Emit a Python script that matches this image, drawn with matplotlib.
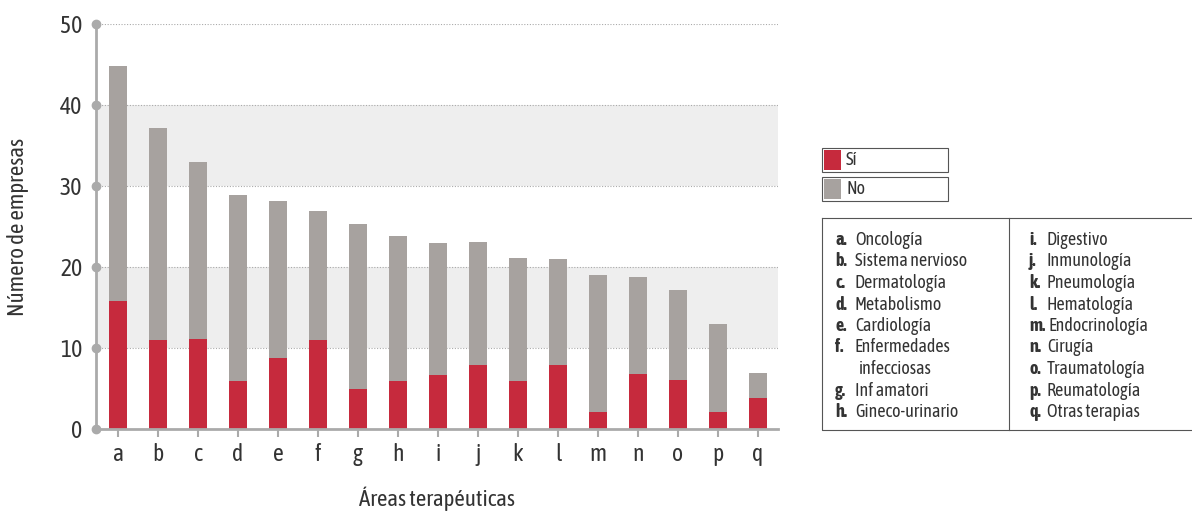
import numpy as np
import matplotlib
matplotlib.use("Agg")
import matplotlib.pyplot as plt
from matplotlib.patches import Rectangle
from matplotlib import font_manager

# data
letters = list("abcdefghijklmnopq")
si = [15.8, 11.0, 11.1, 5.9, 8.8, 11.0, 4.9, 5.9, 6.7, 7.9, 5.9, 7.9, 2.1, 6.8, 6.0, 2.1, 3.8]
total = [44.8, 37.2, 33.0, 28.9, 28.1, 26.9, 25.3, 23.8, 23.0, 23.1, 21.1, 21.0, 19.0, 18.8, 17.2, 13.0, 6.9]
no = [t - s for t, s in zip(total, si)]

areas_left = [("a.", "Oncología"), ("b.", "Sistema nervioso"), ("c.", "Dermatología"),
              ("d.", "Metabolismo"), ("e.", "Cardiología"), ("f.", "Enfermedades"),
              ("", "infecciosas"), ("g.", "Inf amatori"), ("h.", "Gineco-urinario")]
areas_right = [("i.", "Digestivo"), ("j.", "Inmunología"), ("k.", "Pneumología"),
               ("l.", "Hematología"), ("m.", "Endocrinología"), ("n.", "Cirugía"),
               ("o.", "Traumatología"), ("p.", "Reumatología"), ("q.", "Otras terapias")]

RED = "#c62a3d"
GREY = "#a7a29f"
AXC = "#aaaaaa"
TXT = "#333333"

# look for a condensed family, prefer one that also has a bold face
fonts = font_manager.fontManager.ttflist
narrow = [f for f in fonts if "Narrow" in f.name or "Condensed" in f.name
          or f.stretch in ("condensed", "semi-condensed")]
bold_fams = {f.name for f in narrow if f.weight in (600, 700, "bold", "semibold")}
fam = "DejaVu Sans"
if bold_fams:
    fam = sorted(bold_fams)[0]
elif narrow:
    fam = narrow[0].name
plt.rcParams["font.family"] = [fam, "DejaVu Sans"]
plt.rcParams["font.stretch"] = "condensed"

W, H = 1192, 513
fig = plt.figure(figsize=(W / 100, H / 100), dpi=100)
ax = fig.add_axes([96 / W, 1 - 429 / H, (778 - 96) / W, (429 - 24) / H])

x = np.arange(len(letters))
ax.axhspan(10, 20, color="#eeeeee", zorder=0, lw=0)
ax.axhspan(30, 40, color="#eeeeee", zorder=0, lw=0)
for yv in [10, 20, 30, 40, 50]:
    ax.axhline(yv, color="#aaaaaa", lw=0.8, ls=(0, (1, 1.5)), zorder=1)
ax.bar(x, si, width=0.45, color=RED, zorder=2)
ax.bar(x, no, bottom=si, width=0.45, color=GREY, zorder=2)

ax.set_xlim(-0.55, 16.5)
ax.set_ylim(0, 50)
for s in ["top", "right"]:
    ax.spines[s].set_visible(False)
for s in ["left", "bottom"]:
    ax.spines[s].set_color(AXC)
    ax.spines[s].set_linewidth(2)
ax.set_yticks([0, 10, 20, 30, 40, 50])
ax.set_xticks(x)
ax.set_xticklabels(letters)
ax.tick_params(axis="y", length=0, labelsize=17, labelcolor=TXT, pad=10)
ax.tick_params(axis="x", length=6, width=1.5, color=AXC, labelsize=17, labelcolor=TXT, pad=4)
ax.plot(np.zeros(6), [0, 10, 20, 30, 40, 50], "o", color=AXC, ms=6, clip_on=False,
        zorder=5, transform=ax.get_yaxis_transform())
ax.set_ylabel("Número de empresas", fontsize=16.5, color=TXT, labelpad=22)
fig.text(437 / W, 1 - 506 / H, "Áreas terapéuticas", fontsize=16.5, color=TXT,
         ha="center", va="baseline")

# legend panel in pixel coordinates
lg = fig.add_axes([0, 0, 1, 1], zorder=-1)
lg.set_xlim(0, W)
lg.set_ylim(H, 0)
lg.axis("off")
for y0, col, lab in [(148, RED, "Sí"), (177, GREY, "No")]:
    lg.add_patch(Rectangle((822, y0), 126, 24, fill=False, ec="#555555", lw=0.8))
    lg.add_patch(Rectangle((824, y0 + 2), 17, 20, color=col, lw=0))
    lg.text(846, y0 + 12, lab, fontsize=13, color=TXT, va="center")

lg.plot([822, 1192], [218, 218], color="#555555", lw=0.8)
lg.plot([822, 822, 1192], [218, 430, 430], color="#555555", lw=0.8)
lg.plot([1009, 1009], [218, 430], color="#555555", lw=0.8)
for i, (k, n) in enumerate(areas_left):
    yy = 240 + i * 21.5
    lg.text(835, yy, k, fontsize=13, fontweight="bold", color=TXT, va="center")
    lg.text(855 if k else 859, yy, n, fontsize=13, color=TXT, va="center")
for i, (k, n) in enumerate(areas_right):
    yy = 240 + i * 21.5
    lg.text(1029, yy, k, fontsize=13, fontweight="bold", color=TXT, va="center")
    lg.text(1049 if k == "m." else 1047, yy, n, fontsize=13, color=TXT, va="center")

fig.savefig("out.png", dpi=100)
